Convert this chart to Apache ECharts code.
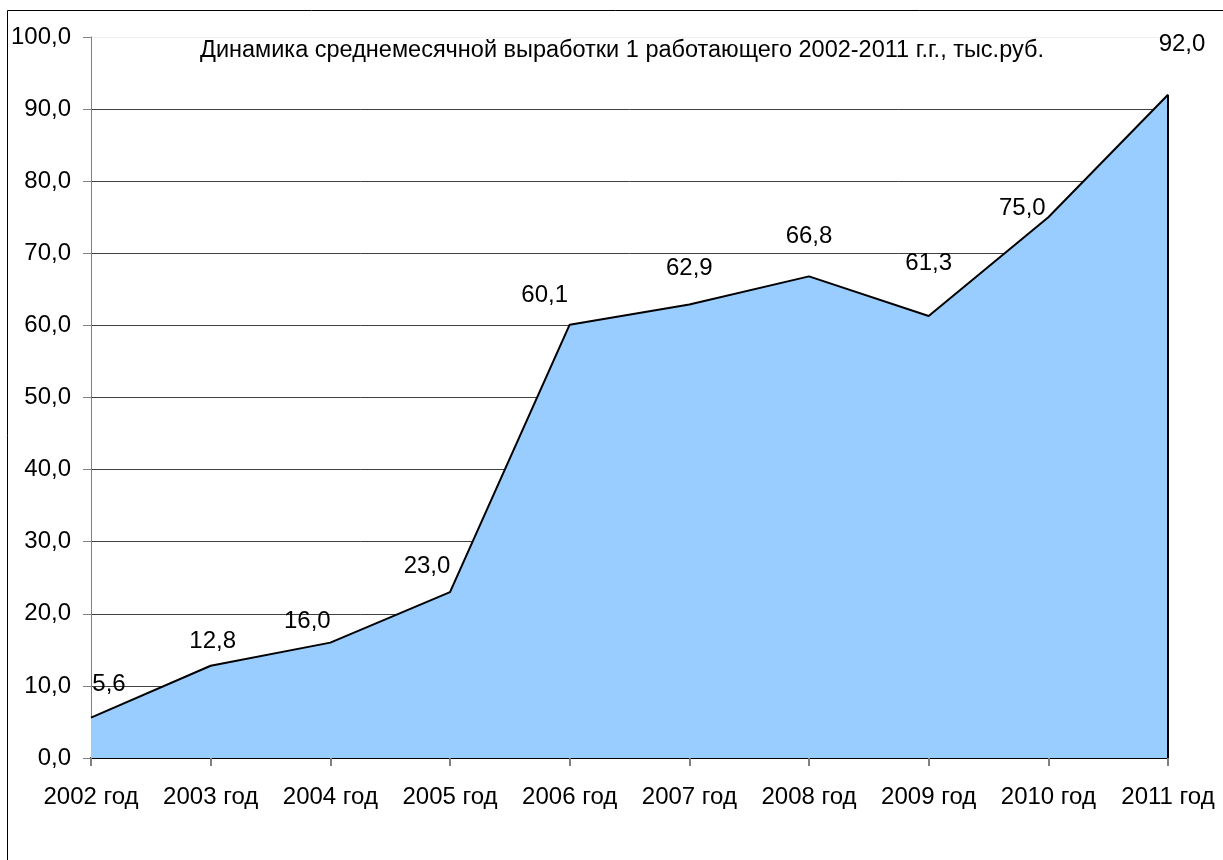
<!DOCTYPE html>
<html><head><meta charset="utf-8">
<script src="https://cdn.jsdelivr.net/npm/echarts@6/dist/echarts.min.js"></script>
<style>html,body{margin:0;padding:0;background:#fff}#c{width:1223px;height:860px}</style>
</head><body><div id="c"></div>
<script>
const categories = ['2002 год','2003 год','2004 год','2005 год','2006 год','2007 год','2008 год','2009 год','2010 год','2011 год'];
const values = [5.6, 12.8, 16.0, 23.0, 60.1, 62.9, 66.8, 61.3, 75.0, 92.0];
const titleText = 'Динамика среднемесячной выработки 1 работающего 2002-2011 г.г., тыс.руб.';
// label offsets (style only)
const labelOffsets = [[18,-33],[2,-24],[-23,-21],[-23,-26],[-25,-29],[0,-36],[0,-40],[0,-53],[-26,-9],[14,-50]];

const FONT = 'Liberation Sans';
const fmt = v => v.toFixed(1).replace('.', ',');
const chart = echarts.init(document.getElementById('c'), null, {renderer:'canvas'});
const gridColors = ['#404040','#404040','#404040','#404040','#404040','#404040','#404040','#404040','#404040','#404040','#f0f0f0'];
const last = values.length - 1;
chart.setOption({
  animation:false,
  backgroundColor:'#fff',
  textStyle:{fontFamily:FONT},
  graphic:[{type:'rect',shape:{x:7.5,y:10.5,width:1240,height:880},style:{fill:'none',stroke:'#000',lineWidth:1},z:-1},
           {type:'text',left:200,top:39,style:{text:titleText,font:'23.5px "Liberation Sans"',fill:'#000'}}],
  grid:{left:91,right:55,top:37,bottom:102},
  xAxis:{type:'category',data:categories,boundaryGap:false,
    axisLine:{lineStyle:{color:'#000',width:2}},
    axisTick:{show:true,interval:0,length:8,lineStyle:{color:'#808080',width:2}},
    axisLabel:{color:'#000',fontSize:24,margin:27,interval:0,hideOverlap:false,fontFamily:FONT},
    splitLine:{show:false}},
  yAxis:{type:'value',min:0,max:100,interval:10,
    axisLine:{show:true,lineStyle:{color:'#808080',width:1}},
    axisTick:{show:true,length:8,lineStyle:{color:'#808080'}},
    axisLabel:{color:'#000',fontSize:24,margin:20,fontFamily:FONT,formatter:v=>fmt(v)},
    splitLine:{show:true,lineStyle:{color:gridColors,width:1}}},
  series:[{type:'line',
    data:values.map((v,i)=>({value:v,label:{offset:labelOffsets[i]}})),
    symbol:'circle',symbolSize:1,showSymbol:true,
    lineStyle:{color:'#000',width:2},
    itemStyle:{color:'rgba(0,0,0,0)'},
    areaStyle:{color:'#99CCFF',opacity:1},
    label:{show:true,position:'inside',color:'#000',fontSize:24,fontFamily:FONT,formatter:p=>fmt(p.value)},
    markLine:{silent:true,symbol:'none',label:{show:false},lineStyle:{color:'#000',width:2,type:'solid'},
      data:[[{coord:[categories[last],0]},{coord:[categories[last],values[last]]}]]}
  }]
});
</script></body></html>
